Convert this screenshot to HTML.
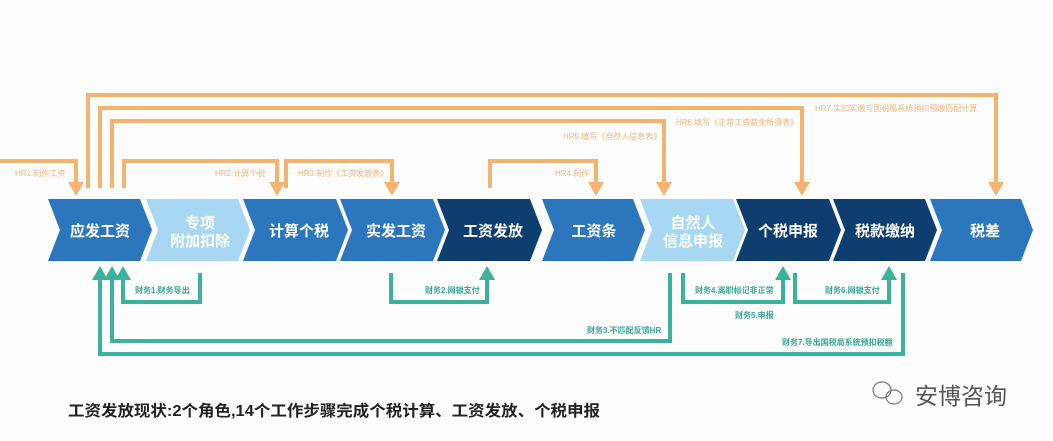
<!DOCTYPE html>
<html><head><meta charset="utf-8"><style>
html,body{margin:0;padding:0;background:#fdfdfd;}
svg{display:block;font-family:"Liberation Sans","Noto Sans CJK SC",sans-serif;}
</style></head><body>
<svg width="1053" height="441" viewBox="0 0 1053 441" xmlns="http://www.w3.org/2000/svg">
<defs>
<marker id="ao" markerWidth="3.5" markerHeight="4" refX="1.5" refY="2" orient="auto" markerUnits="strokeWidth"><path d="M0,0 L3.5,2 L0,4z" fill="#f4b36e"/></marker>
<marker id="at" markerWidth="3.5" markerHeight="4" refX="1.5" refY="2" orient="auto" markerUnits="strokeWidth"><path d="M0,0 L3.5,2 L0,4z" fill="#39b39c"/></marker>
</defs>
<g>
<polygon points="48,199 140,199 152,230 140,261 48,261 60,230" fill="#2b76bd"/>
<polygon points="146,199 238,199 250,230 238,261 146,261 158,230" fill="#a8d7f3"/>
<polygon points="243,199 336,199 348,230 336,261 243,261 255,230" fill="#2b76bd"/>
<polygon points="340,199 433,199 445,230 433,261 340,261 352,230" fill="#2b76bd"/>
<polygon points="437,199 530,199 542,230 530,261 437,261 449,230" fill="#0d3e6f"/>
<polygon points="542,199 633,199 645,230 633,261 542,261 554,230" fill="#2b76bd"/>
<polygon points="640,199 733,199 745,230 733,261 640,261 652,230" fill="#a8d7f3"/>
<polygon points="736,199 829,199 841,230 829,261 736,261 748,230" fill="#0d3e6f"/>
<polygon points="833,199 925,199 937,230 925,261 833,261 845,230" fill="#0d3e6f"/>
<polygon points="930,199 1021,199 1033,230 1021,261 930,261 942,230" fill="#2b76bd"/>
</g>
<g fill="#fff" font-weight="bold" font-size="15" text-anchor="middle">
<text x="100" y="236">应发工资</text>
<text x="200" y="228">专项</text><text x="200" y="246">附加扣除</text>
<text x="299" y="236">计算个税</text>
<text x="396" y="236">实发工资</text>
<text x="493" y="236">工资发放</text>
<text x="594" y="236">工资条</text>
<text x="693" y="228">自然人</text><text x="693" y="246">信息申报</text>
<text x="788" y="236">个税申报</text>
<text x="885" y="236">税款缴纳</text>
<text x="985" y="236">税差</text>
</g>
<g fill="none" stroke="#f4b36e" stroke-width="4">
<polyline points="0,161 76,161 76,188" marker-end="url(#ao)"/>
<polyline points="88,188 88,95 996,95 996,188" marker-end="url(#ao)"/>
<polyline points="100,188 100,108 802,108 802,188" marker-end="url(#ao)"/>
<polyline points="112,188 112,121 664,121 664,188" marker-end="url(#ao)"/>
<polyline points="124,188 124,161 277,161 277,188" marker-end="url(#ao)"/>
<polyline points="286,188 286,161 392,161 392,188" marker-end="url(#ao)"/>
<polyline points="490,188 490,161 596,161 596,188" marker-end="url(#ao)"/>
</g>
<g fill="#f2b478" font-size="8">
<text x="15" y="176">HR1.制作工资</text>
<text x="215" y="176">HR2.计算个税</text>
<text x="298" y="176">HR3.制作《工资发放表》</text>
<text x="555" y="176">HR4.制作</text>
<text x="563" y="139">HR5.填写《自然人信息表》</text>
<text x="676" y="125">HR6.填写《正常工资薪金所得表》</text>
<text x="815" y="111">HR7.实扣实缴与国税局系统预扣预缴匹配计算</text>
</g>
<g fill="none" stroke="#39b39c" stroke-width="4">
<polyline points="200,273 200,302 123,302 123,274" marker-end="url(#at)"/>
<polyline points="391,273 391,302 487,302 487,274" marker-end="url(#at)"/>
<polyline points="670,273 670,341 112,341 112,274" marker-end="url(#at)"/>
<polyline points="903,273 903,354 100,354 100,274" marker-end="url(#at)"/>
<polyline points="683,273 683,302 783,302 783,274" marker-end="url(#at)"/>
<polyline points="795,273 795,302 889,302 889,274" marker-end="url(#at)"/>
</g>
<g fill="#35a892" font-size="8" font-weight="bold">
<text x="135" y="293">财务1.财务导出</text>
<text x="425" y="293">财务2.网银支付</text>
<text x="587" y="333">财务3.不匹配反馈HR</text>
<text x="695" y="293">财务4.离职标记非正常</text>
<text x="735" y="318">财务5.申报</text>
<text x="825" y="293">财务6.网银支付</text>
<text x="782" y="345">财务7.导出国税局系统预扣税额</text>
</g>
<text x="68" y="416" font-size="15.5" font-weight="bold" fill="#222" textLength="532" lengthAdjust="spacingAndGlyphs">工资发放现状:2个角色,14个工作步骤完成个税计算、工资发放、个税申报</text>
<g fill="none" stroke="#777" stroke-width="1.2">
<ellipse cx="882" cy="390" rx="9" ry="8"/>
<ellipse cx="894" cy="397" rx="8" ry="7"/>
</g>
<text x="915" y="404" font-size="23" fill="#555">安博咨询</text>
</svg>
</body></html>
